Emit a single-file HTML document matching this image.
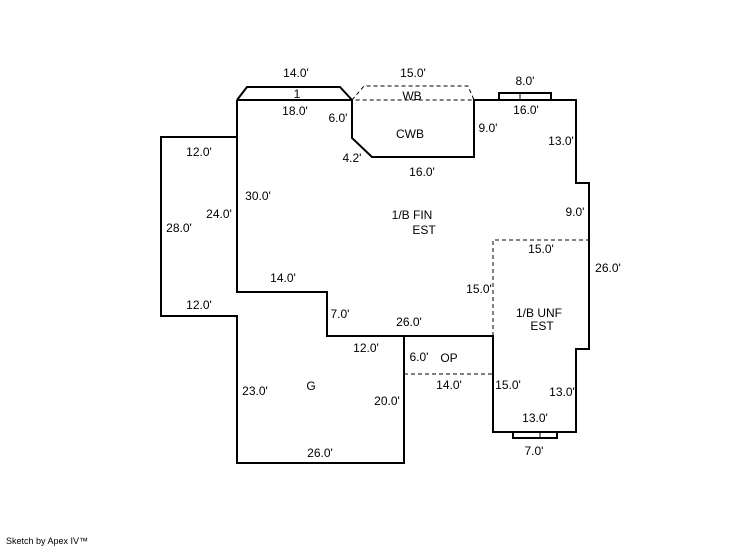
<!DOCTYPE html>
<html><head><meta charset="utf-8"><style>
html,body{margin:0;padding:0;background:#fff;width:746px;height:547px;overflow:hidden}
svg{display:block}
text{font-family:"Liberation Sans",Arial,sans-serif;font-size:12px;fill:#000}
</style></head><body>
<svg width="746" height="547" viewBox="0 0 746 547" xmlns="http://www.w3.org/2000/svg">
<g fill="none" stroke="#000" stroke-width="2">
<polyline points="237,100 352,100"/>
<polyline points="237,100 247,87 340,87 352,100"/>
<polyline points="352,100 352,138 372,157 474,157 474,100 576,100 576,183 589,183 589,349 576,349 576,432 493,432 493,336 327,336 327,292 237,292 237,100"/>
<polyline points="237,137 161,137 161,316 237,316 237,463 404,463 404,336"/>
<rect x="499" y="93" width="52" height="7"/>
<rect x="513" y="432" width="44" height="6"/>
</g>
<g stroke="#000" stroke-width="1">
<line x1="520" y1="93" x2="520" y2="100"/>
<line x1="540" y1="432" x2="540" y2="438"/>
</g>
<g fill="none" stroke="#000" stroke-width="1" stroke-dasharray="4,3">
<polyline points="352,100 364,86 468,86 474,100 352,100"/>
<polyline points="493,336 493,240 589,240"/>
<line x1="404" y1="374" x2="493" y2="374"/>
</g>
<g text-anchor="middle">
<text x="296" y="77">14.0'</text>
<text x="297" y="98">1</text>
<text x="413" y="77">15.0'</text>
<text x="525" y="85">8.0'</text>
<text x="412" y="100">WB</text>
<text x="295" y="115">18.0'</text>
<text x="526" y="114">16.0'</text>
<text x="338" y="122">6.0'</text>
<text x="410" y="138">CWB</text>
<text x="488" y="132">9.0'</text>
<text x="561" y="145">13.0'</text>
<text x="352" y="162">4.2'</text>
<text x="422" y="176">16.0'</text>
<text x="199" y="156">12.0'</text>
<text x="258" y="200">30.0'</text>
<text x="219" y="218">24.0'</text>
<text x="179" y="232">28.0'</text>
<text x="575" y="216">9.0'</text>
<text x="412" y="219">1/B FIN</text>
<text x="424" y="234">EST</text>
<text x="541" y="253">15.0'</text>
<text x="608" y="272">26.0'</text>
<text x="283" y="282">14.0'</text>
<text x="479" y="293">15.0'</text>
<text x="199" y="309">12.0'</text>
<text x="340" y="318">7.0'</text>
<text x="539" y="317">1/B UNF</text>
<text x="542" y="330">EST</text>
<text x="409" y="326">26.0'</text>
<text x="366" y="352">12.0'</text>
<text x="419" y="361">6.0'</text>
<text x="449" y="362">OP</text>
<text x="449" y="389">14.0'</text>
<text x="508" y="389">15.0'</text>
<text x="562" y="396">13.0'</text>
<text x="255" y="395">23.0'</text>
<text x="311" y="390">G</text>
<text x="387" y="405">20.0'</text>
<text x="535" y="422">13.0'</text>
<text x="534" y="455">7.0'</text>
<text x="320" y="457">26.0'</text>
</g>
<text x="6" y="544" style="font-size:9px">Sketch by Apex IV™</text>
</svg>
</body></html>
